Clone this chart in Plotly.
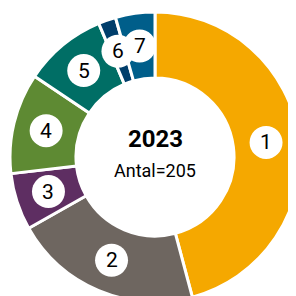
import math
import plotly.graph_objects as go

labels = ["1", "2", "3", "4", "5", "6", "7"]
values = [94, 43, 13, 23, 19, 4, 9]
colors = ["#F5A800", "#6E6660", "#5E2E62", "#5E8A33", "#006E65", "#003E6B", "#005E8A"]
title_year = "2023"
total_text = "Antal=205"

W, H = 300, 300
off = 8  # page body margin
cx, cy, R = 155 - off, 157 - off, 145
hole = 0.545

fig = go.Figure()
fig.add_trace(go.Pie(
    values=values, labels=labels, sort=False, direction="clockwise", rotation=0,
    hole=hole, textinfo="none", hoverinfo="skip", showlegend=False,
    marker=dict(colors=colors, line=dict(color="white", width=3)),
    domain=dict(x=[(cx - R) / W, (cx + R) / W], y=[(H - cy - R) / H, (H - cy + R) / H]),
))

# label positions derived from the data (mid-angle of each slice)
tot = sum(values)
rl = R * (1 + hole) / 2
cum = 0
for lab, v in zip(labels, values):
    a = (cum + v / 2) / tot * 2 * math.pi
    x = cx + rl * math.sin(a)
    y = cy - rl * math.cos(a)
    cum += v
    fig.add_shape(type="circle", xref="x", yref="y", xsizemode="pixel", ysizemode="pixel",
                  xanchor=x, yanchor=y, x0=-16.5, x1=16.5, y0=-16.5, y1=16.5,
                  fillcolor="white", line=dict(width=0), layer="above")
    fig.add_annotation(x=x, y=y, text=lab, showarrow=False,
                       font=dict(size=21, color="black", family="Roboto"))

fig.add_annotation(x=cx, y=cy - 18, text="<b>" + title_year + "</b>", showarrow=False,
                   font=dict(size=24, color="black", family="Roboto"))
fig.add_annotation(x=cx, y=cy + 13, text=total_text, showarrow=False,
                   font=dict(size=18, color="black", family="Roboto"))

fig.update_layout(
    width=W, height=H, margin=dict(l=0, r=0, t=0, b=0),
    paper_bgcolor="white", plot_bgcolor="rgba(0,0,0,0)",
    xaxis=dict(range=[0, W], visible=False, fixedrange=True),
    yaxis=dict(range=[H, 0], visible=False, fixedrange=True),
)
fig.write_html("out.html")
